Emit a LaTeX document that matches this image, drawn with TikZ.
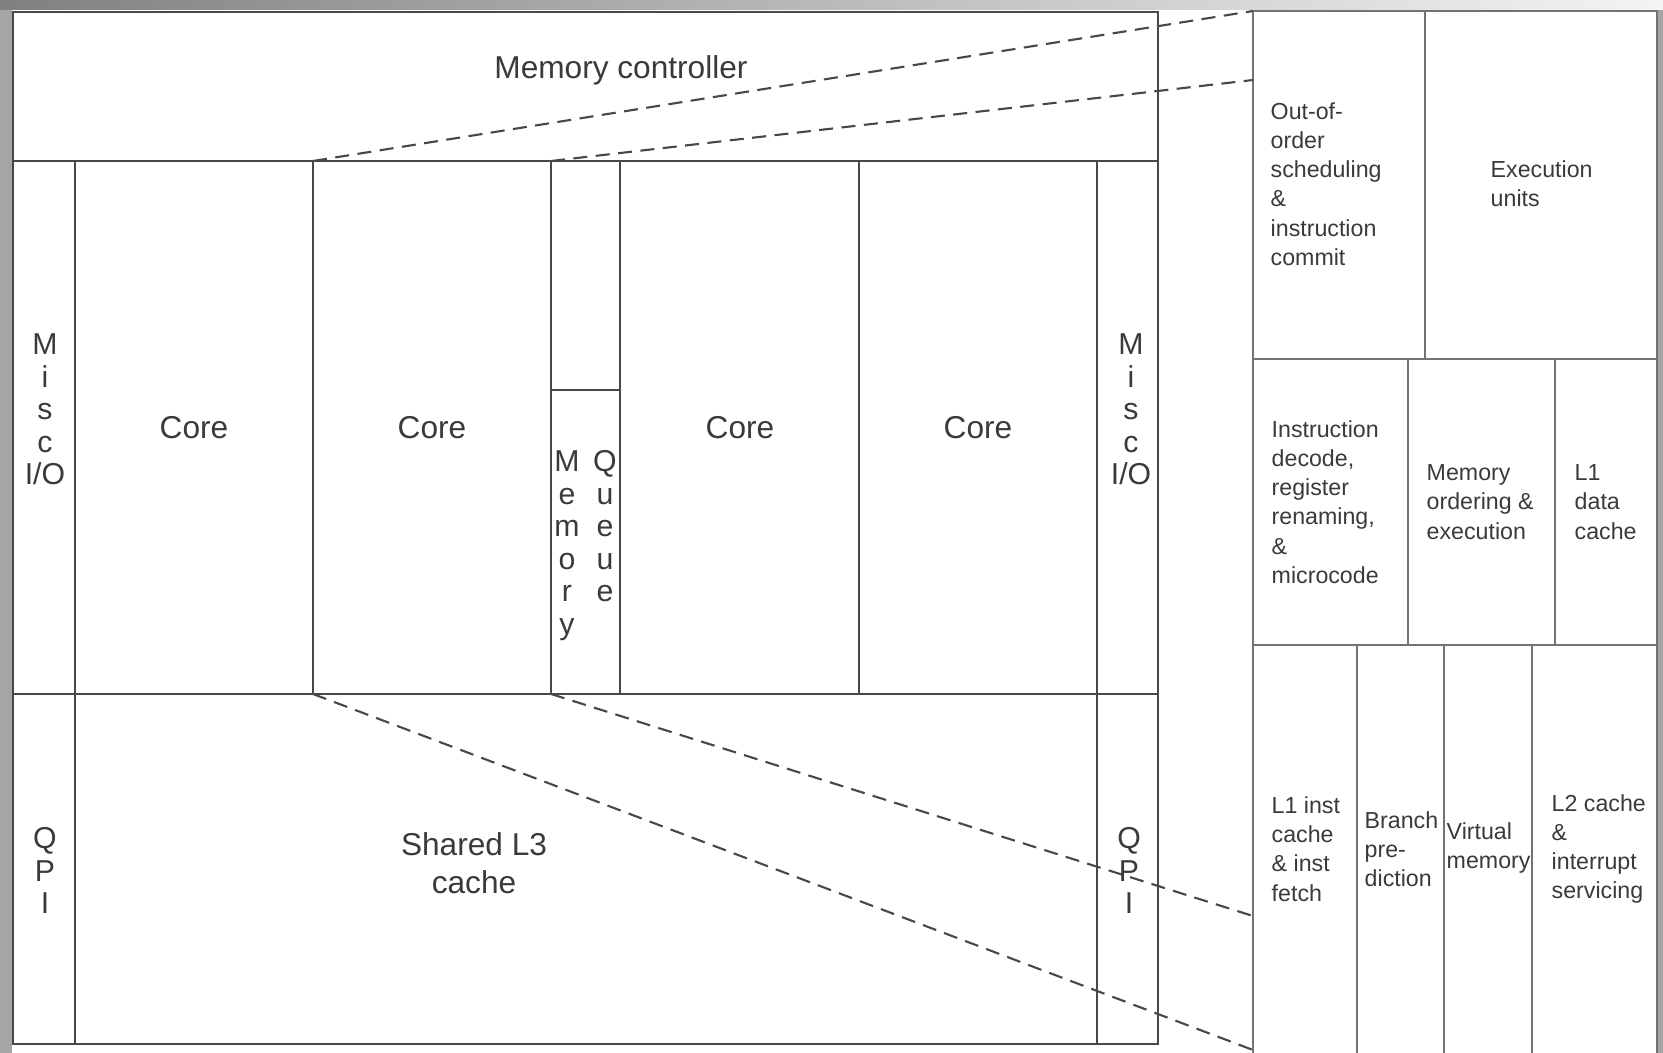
\documentclass[tikz,border=0pt]{standalone}
\usepackage{fontspec}
\setmainfont{Liberation Sans}
\usetikzlibrary{positioning}
\definecolor{ChipLine}{RGB}{72,72,72}
\definecolor{PanelLine}{RGB}{115,115,115}
\definecolor{LabelGray}{RGB}{58,58,58}
\definecolor{FrameGray}{RGB}{165,165,165}
\definecolor{FrameDark}{RGB}{128,128,128}
\definecolor{FrameLight}{RGB}{244,244,244}
\newcommand{\celldiv}[4]{%
  \draw[#4] (#1,#2)--(#1,#3);}

\begin{document}
\begin{tikzpicture}[x=0.1mm,y=-0.1mm,
  chip/.style={ChipLine,line width=0.5pt},
  panel/.style={PanelLine,line width=0.7pt},
  zoomline/.style={ChipLine,line width=0.6pt,dash pattern=on 4pt off 2.4pt},
  lbl/.style={LabelGray,inner sep=0pt,align=center,font=\fontsize{9}{10.9}\selectfont},
  stack/.style={LabelGray,inner sep=0pt,align=center,anchor=north,font=\fontsize{8.6}{9.25}\selectfont},
  unit/.style={LabelGray,inner sep=0pt,align=left,anchor=west,font=\fontsize{6.6}{8.3}\selectfont}]
  \useasboundingbox (0,0) rectangle (1663,1053);
  \shade[left color=FrameDark,right color=FrameLight] (0,0) rectangle (1663,10);
  \fill[FrameGray] (0,10) rectangle (12,1053);
  \fill[FrameGray] (1658,10) rectangle (1663,1053);

  \draw[chip] (13,12) rectangle (1158,1044);
  \draw[chip] (13,161)--(1158,161) (13,694)--(1158,694);
  \celldiv{75}{161}{1044}{chip}
  \celldiv{313}{161}{694}{chip}
  \celldiv{551}{161}{694}{chip}
  \celldiv{620}{161}{694}{chip}
  \celldiv{859}{161}{694}{chip}
  \celldiv{1097}{161}{1044}{chip}
  \draw[chip] (551,390)--(620,390);

  \draw[panel] (1253,1053)--(1253,11)--(1657,11)--(1657,1053);
  \draw[panel] (1253,359)--(1657,359) (1253,645)--(1657,645);
  \celldiv{1425}{11}{359}{panel}
  \celldiv{1408}{359}{645}{panel}
  \celldiv{1555}{359}{645}{panel}
  \celldiv{1357}{645}{1053}{panel}
  \celldiv{1444}{645}{1053}{panel}
  \celldiv{1532}{645}{1053}{panel}

  \coordinate (coreTL) at (313,161);
  \coordinate (coreTR) at (551,161);
  \coordinate (coreBL) at (313,694);
  \coordinate (coreBR) at (551,694);
  \coordinate (zoomTL) at (1253,11);
  \coordinate (zoomTR) at (1253,80);
  \coordinate (zoomBL) at (1253,1050);
  \coordinate (zoomBR) at (1253,916);
  \draw[zoomline] (coreTL)--(zoomTL);
  \draw[zoomline] (coreTR)--(zoomTR);
  \draw[zoomline] (coreBL)--(zoomBL);
  \draw[zoomline] (coreBR)--(zoomBR);

  \node[lbl,anchor=base] (memctrl) at (621,79) {Memory controller};
  \node[lbl,anchor=base] (coreA) at (194,439) {Core};
  \node[lbl,anchor=base] (coreB) at (432,439) {Core};
  \node[lbl,anchor=base] (coreC) at (740,439) {Core};
  \node[lbl,anchor=base] (coreD) at (978,439) {Core};
  \node[lbl,anchor=north] (lthree) at (474,832) {Shared L3\\cache};
  \node[stack] (miscL) at (45,333) {M\\i\\s\\c\\I/O};
  \node[stack] (miscR) at (1131,333) {M\\i\\s\\c\\I/O};
  \node[stack] (qpiL) at (45,827) {Q\\P\\I};
  \node[stack] (qpiR) at (1129,827) {Q\\P\\I};
  \node[stack] (memq) at (567,450) {M\\e\\m\\o\\r\\y};
  \node[stack] (queue) at (605,450) {Q\\u\\e\\u\\e};

  \node[unit] (ooo) at (1270,184) {Out-of-\\order\\scheduling\\\&\\instruction\\commit};
  \node[unit] (exec) at (1490,184) {Execution\\units};
  \node[unit] (decode) at (1271,502) {Instruction\\decode,\\register\\renaming,\\\&\\microcode};
  \node[unit] (memord) at (1426,502) {Memory\\ordering \&\\execution};
  \node[unit] (lonedata) at (1574,502) {L1\\data\\cache};
  \node[unit] (loneinst) at (1271,849) {L1 inst\\cache\\\& inst\\fetch};
  \node[unit] (branch) at (1364,849) {Branch\\pre-\\diction};
  \node[unit] (virt) at (1446,848) {Virtual\\memory};
  \node[unit] (ltwo) at (1551,849) {L2 cache\\\&\\interrupt\\servicing};
\end{tikzpicture}
\end{document}
